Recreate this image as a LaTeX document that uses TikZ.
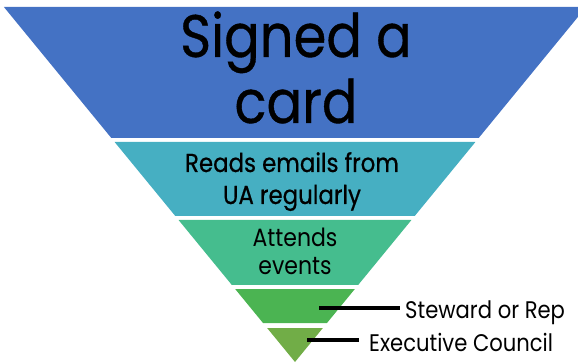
\documentclass[tikz,border=0pt]{standalone}
\usepackage{fontspec}
\setmainfont{Poppins}[FakeStretch=0.88]
\newfontfamily\medfont{Poppins}[FakeStretch=0.88,FakeBold=0.6]
\usepackage{tikz}
\usetikzlibrary{positioning}
\definecolor{bandblue}{HTML}{4472C4}
\definecolor{bandteal}{HTML}{46AFC2}
\definecolor{bandgreen}{HTML}{45BD8E}
\definecolor{bandlime}{HTML}{4BB452}
\definecolor{bandolive}{HTML}{71AD47}
\tikzstyle{bigtext}=[inner sep=0pt, anchor=base
,font=\medfont\fontsize{60}{60}\selectfont
]
\tikzstyle{midtext}=[inner sep=0pt, anchor=base
,font=\medfont\fontsize{26}{26}\selectfont
]
\tikzstyle{smalltext}=[inner sep=0pt, anchor=base
,font=\fontsize{25}{25}\selectfont
]
\tikzstyle{sidetext}=[inner ysep=0pt, inner xsep=5pt, anchor=base west
,font=\fontsize{24}{24}\selectfont
]
\tikzstyle{pointer} = [draw,line width=3.5pt,-]

\begin{document}
\begin{tikzpicture}[x=1pt,y=-1pt]
    \useasboundingbox (0,0) rectangle (578,363);
    \clip (0,0) rectangle (578,363);
    % First we draw the bands of the funnel
    \foreach \top/\bot/\col in {7/138/bandblue, 142/216/bandteal, 220/285/bandgreen, 289/323/bandlime, 328/362/bandolive}
        \fill[\col] ({295-0.82*(362-\top)},\top) -- ({295+0.82*(362-\top)},\top)
            -- ({295+0.82*(362-\bot)},\bot) -- ({295-0.82*(362-\bot)},\bot) -- cycle;

    % Then the texts inside the bands
    \node[bigtext] (signed) at (296,57) {Signed a};
    \node[bigtext] (card) at (296,123) {card};
    \node[midtext] (reads) at (292,172) {Reads emails from};
    \node[midtext] (regularly) at (292,204) {UA regularly};
    \node[smalltext] (attends) at (295,247) {Attends};
    \node[smalltext] (events) at (295,275) {events};

    % Labels beside the tip
    \node[sidetext] (steward) at (400,318) {Steward or Rep};
    \node[sidetext] (council) at (364,351) {Executive Council};
    \coordinate (stewardpt) at (319,308);
    \coordinate (councilpt) at (307,340);
    \path[pointer] (stewardpt) -- (stewardpt -| steward.west);
    \path[pointer,shorten >=5pt] (councilpt) -- (councilpt -| council.west);
\end{tikzpicture}
\end{document}
